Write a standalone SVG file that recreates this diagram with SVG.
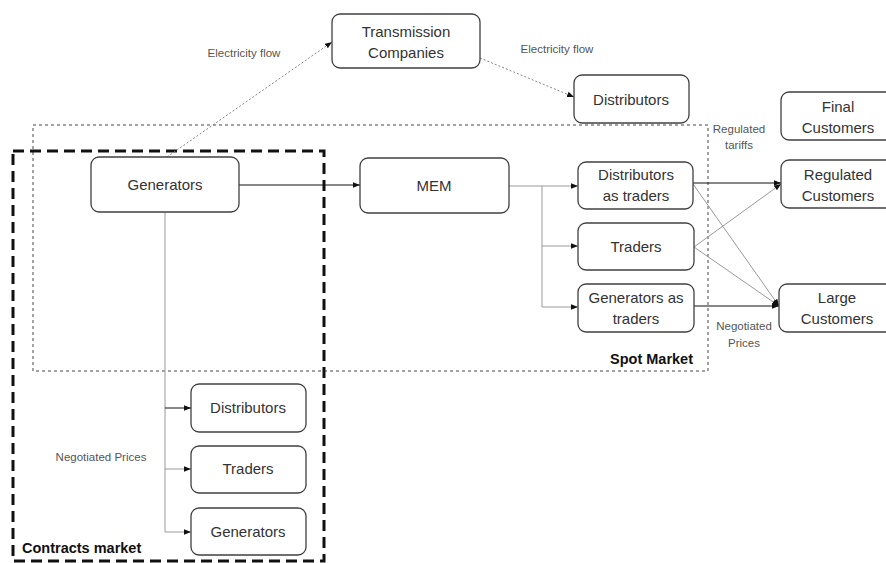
<svg xmlns="http://www.w3.org/2000/svg" width="886" height="563" viewBox="0 0 886 563">
<defs>
<style>
.box{fill:#fff;stroke:#404040;stroke-width:1.3}
.t{font-family:"Liberation Sans",Arial,sans-serif;font-size:15px;fill:#333;text-anchor:middle}
.s{font-family:"Liberation Sans",Arial,sans-serif;font-size:11.5px;fill:#555;text-anchor:middle}
.b{font-family:"Liberation Sans",Arial,sans-serif;font-size:14.5px;font-weight:bold;fill:#111}
.dk{fill:none;stroke:#111;stroke-width:1}
.gr{fill:none;stroke:#999;stroke-width:1}
.dot{fill:none;stroke:#888;stroke-width:1;stroke-dasharray:2,2}
</style>
<marker id="ah" viewBox="0 0 10 10" refX="10" refY="5" markerWidth="7" markerHeight="7" orient="auto" markerUnits="userSpaceOnUse">
<path d="M0,1 L10,5 L0,9 Z" fill="#111"/>
</marker>
</defs>
<rect width="886" height="563" fill="#fff"/>

<g id="regions">
<rect x="33" y="125" width="675" height="246" fill="none" stroke="#444" stroke-width="1" stroke-dasharray="3,3"/>
<rect x="13" y="151" width="311" height="410" fill="none" stroke="#111" stroke-width="3" stroke-dasharray="11,6"/>
<text class="b" x="693" y="364" text-anchor="end">Spot Market</text>
<text class="b" x="22" y="553">Contracts market</text>
</g>

<g id="connectors">
<path class="dot" d="M167,157 L332,42" marker-end="url(#ah)"/>
<path class="dot" d="M480,58 L574,97" marker-end="url(#ah)"/>
<path class="dk" d="M239,185 L360,185" marker-end="url(#ah)"/>
<path class="gr" d="M509,186 L542,186 L542,307"/>
<path class="gr" d="M542,186 L578,186" marker-end="url(#ah)"/>
<path class="gr" d="M542,246 L578,246" marker-end="url(#ah)"/>
<path class="gr" d="M542,307 L578,307" marker-end="url(#ah)"/>
<path class="gr" d="M165,212 L165,532"/>
<path class="dk" d="M165,408 L191,408" marker-end="url(#ah)"/>
<path class="gr" d="M165,469 L191,469" marker-end="url(#ah)"/>
<path class="gr" d="M165,532 L191,532" marker-end="url(#ah)"/>
<path class="dk" d="M693,183 L781,183" marker-end="url(#ah)"/>
<path class="gr" d="M694,247 L781,184" marker-end="url(#ah)"/>
<path class="gr" d="M693,184 L779,306" marker-end="url(#ah)"/>
<path class="gr" d="M694,247 L779,306" marker-end="url(#ah)"/>
<path class="dk" d="M694,306 L779,306" marker-end="url(#ah)"/>
<text class="s" x="244" y="57">Electricity flow</text>
<text class="s" x="557" y="53">Electricity flow</text>
<text class="s" x="739" y="133">Regulated</text>
<text class="s" x="739" y="149">tariffs</text>
<text class="s" x="744" y="330">Negotiated</text>
<text class="s" x="744" y="347">Prices</text>
<text class="s" x="101" y="461">Negotiated Prices</text>
</g>

<g id="transmission"><rect class="box" x="332" y="14" width="148" height="54" rx="8"/><text class="t" x="406" y="37">Transmission</text><text class="t" x="406" y="58">Companies</text></g>
<g id="distributors-top"><rect class="box" x="574" y="75" width="115" height="48" rx="8"/><text class="t" x="631" y="105">Distributors</text></g>
<g id="final-customers"><rect class="box" x="781" y="92" width="114" height="48" rx="8"/><text class="t" x="838" y="112">Final</text><text class="t" x="838" y="133">Customers</text></g>
<g id="generators"><rect class="box" x="91" y="157" width="148" height="55" rx="8"/><text class="t" x="165" y="190">Generators</text></g>
<g id="mem"><rect class="box" x="360" y="158" width="149" height="55" rx="8"/><text class="t" x="434" y="191">MEM</text></g>
<g id="distributors-traders"><rect class="box" x="578" y="162" width="115" height="47" rx="8"/><text class="t" x="636" y="180">Distributors</text><text class="t" x="636" y="201">as traders</text></g>
<g id="regulated-customers"><rect class="box" x="781" y="160" width="114" height="48" rx="8"/><text class="t" x="838" y="180">Regulated</text><text class="t" x="838" y="201">Customers</text></g>
<g id="traders-spot"><rect class="box" x="578" y="223" width="116" height="47" rx="8"/><text class="t" x="636" y="252">Traders</text></g>
<g id="generators-traders"><rect class="box" x="578" y="284" width="116" height="48" rx="8"/><text class="t" x="636" y="303">Generators as</text><text class="t" x="636" y="324">traders</text></g>
<g id="large-customers"><rect class="box" x="779" y="284" width="116" height="48" rx="8"/><text class="t" x="837" y="303">Large</text><text class="t" x="837" y="324">Customers</text></g>
<g id="distributors-contract"><rect class="box" x="191" y="384" width="115" height="48" rx="8"/><text class="t" x="248" y="413">Distributors</text></g>
<g id="traders-contract"><rect class="box" x="191" y="446" width="115" height="47" rx="8"/><text class="t" x="248" y="474">Traders</text></g>
<g id="generators-contract"><rect class="box" x="191" y="508" width="115" height="47" rx="8"/><text class="t" x="248" y="537">Generators</text></g>
</svg>
